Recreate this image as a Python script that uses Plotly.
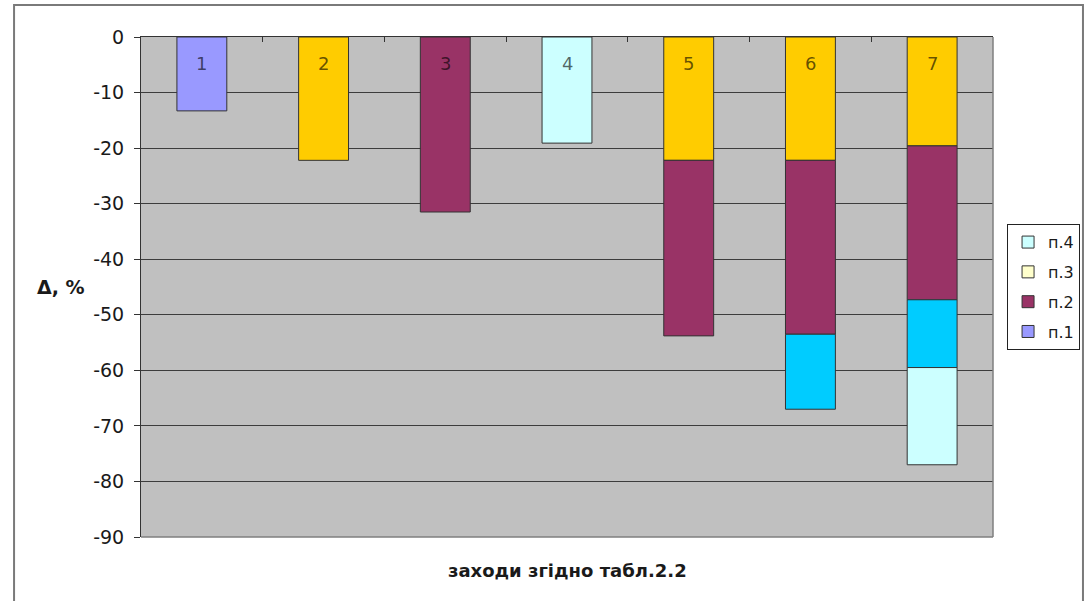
import plotly.graph_objects as go

# Measures (categories) and the stacked contribution of each item, %
categories = ["1", "2", "3", "4", "5", "6", "7"]
p1 = [-13.3, -22.2, -31.5, -19.1, -22.2, -22.2, -19.6]
p2 = [None, None, None, None, -31.6, -31.3, -27.7]
p3 = [None, None, None, None, None, -13.5, -12.2]
p4 = [None, None, None, None, None, None, -17.5]
series_names = ["п.1", "п.2", "п.3", "п.4"]
y_ticks = [0, -10, -20, -30, -40, -50, -60, -70, -80, -90]
y_tick_text = ["0", "-10", "-20", "-30", "-40", "-50", "-60", "-70", "-80", "-90"]

# Fill colours
LAVENDER = "#9999FF"
GOLD = "#FFCC00"
MAROON = "#993366"
LIGHT_CYAN = "#CCFFFF"
SKY = "#00CCFF"
LIGHT_YELLOW = "#FFFFCC"

legend_colors = [LAVENDER, MAROON, LIGHT_YELLOW, LIGHT_CYAN]
p1_colors = [LAVENDER, GOLD, MAROON, LIGHT_CYAN, GOLD, GOLD, GOLD]
segment_colors = [p1_colors, MAROON, SKY, LIGHT_CYAN]

FONT = "DejaVu Sans, Liberation Sans, Arial, sans-serif"
EDGE = "#333333"
TEXT = "#1a1a1a"

fig = go.Figure()

for name, vals, col in zip(series_names, [p1, p2, p3, p4], segment_colors):
    fig.add_trace(go.Bar(
        x=categories, y=vals, name=name,
        marker=dict(color=col, line=dict(color=EDGE, width=1)),
        showlegend=False, hoverinfo="x+y+name",
    ))

# Legend entries carry the series colours; п.4 listed first
n = len(series_names)
for i, (name, col) in enumerate(zip(series_names, legend_colors)):
    fig.add_trace(go.Bar(
        x=[categories[0]], y=[None], name=name, legendgroup=f"g{i}",
        legendrank=n - i,
        marker=dict(color=col, line=dict(color=EDGE, width=1)),
        showlegend=True, hoverinfo="skip",
    ))

# Category labels just under the zero line, inside each column
for i, c in enumerate(categories):
    fig.add_annotation(
        x=i, y=0, xref="x", yref="y", text=c, showarrow=False,
        yshift=-26, yanchor="middle",
        font=dict(family=FONT, size=18, color="rgba(0,0,0,0.62)"),
    )

# Axis titles
fig.add_annotation(
    x=0.5, y=-0.066, xref="paper", yref="paper",
    text="<b>заходи згідно табл.2.2</b>", showarrow=False,
    yanchor="middle", xanchor="center",
    font=dict(family=FONT, size=18, color=TEXT),
)
fig.add_annotation(
    x=-0.124, y=0.5, xref="paper", yref="paper",
    text="<b>Δ, %</b>", showarrow=False,
    yanchor="middle", xanchor="left",
    font=dict(family=FONT, size=19, color=TEXT),
)

# Plot-area right/bottom border and the outer chart frame
fig.add_shape(type="line", xref="paper", yref="paper", x0=1, x1=1, y0=0, y1=1,
              line=dict(color="#7f7f7f", width=1.5), layer="above")
fig.add_shape(type="line", xref="paper", yref="paper", x0=0, x1=1, y0=0, y1=0,
              line=dict(color="#7f7f7f", width=1.5), layer="above")
fig.add_shape(type="rect", xref="paper", yref="paper",
              x0=-0.149, x1=1.1056, y0=-0.14, y1=1.064,
              line=dict(color="#7a7a7a", width=2), layer="above")

fig.update_layout(
    width=1086, height=601,
    margin=dict(l=141, r=93, t=37, b=64),
    paper_bgcolor="white",
    plot_bgcolor="#C0C0C0",
    barmode="relative",
    bargap=0.59,
    font=dict(family=FONT, size=18, color=TEXT),
    showlegend=True,
    legend=dict(
        xref="container", yref="container",
        x=0.9273, y=0.627, xanchor="left", yanchor="top",
        traceorder="grouped", tracegroupgap=6,
        bgcolor="white", bordercolor="#222222", borderwidth=1,
        font=dict(family=FONT, size=16, color=TEXT),
        itemwidth=30,
    ),
    xaxis=dict(
        type="category", side="top",
        range=[-0.5, len(categories) - 0.5],
        showticklabels=False,
        ticks="inside", tickson="boundaries", ticklen=5, tickcolor=EDGE,
        showline=True, linecolor=EDGE, linewidth=1,
        showgrid=False, zeroline=False,
    ),
    yaxis=dict(
        range=[-90, 0], tickvals=y_ticks, ticktext=y_tick_text,
        ticks="outside", ticklen=6, tickcolor=EDGE,
        ticklabelstandoff=6,
        showline=True, linecolor=EDGE, linewidth=1,
        showgrid=True, gridcolor="#3c3c3c", gridwidth=1,
        zeroline=False,
        tickfont=dict(family=FONT, size=19, color=TEXT),
    ),
)

fig.write_html("out.html")
